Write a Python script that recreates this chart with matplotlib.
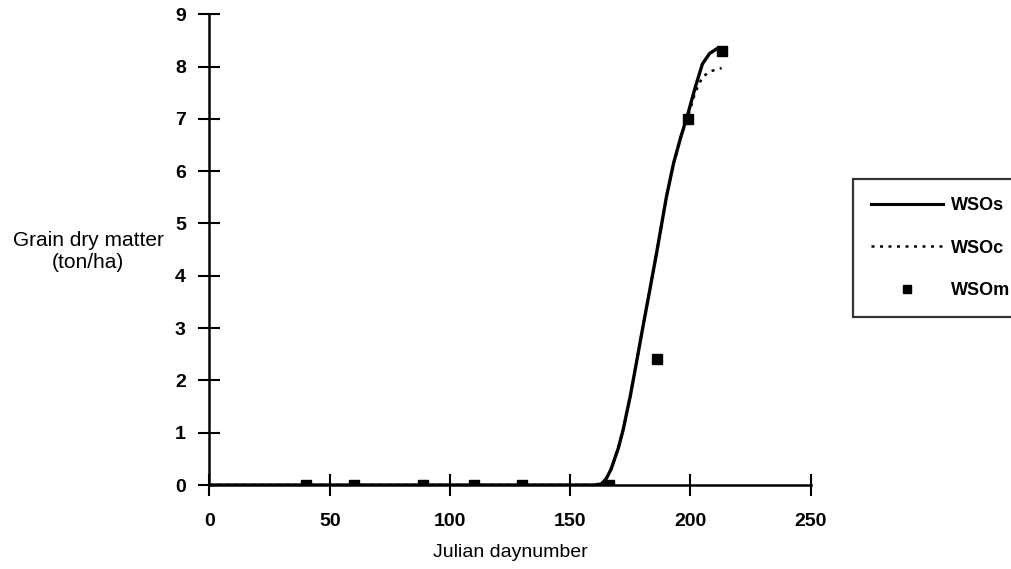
import matplotlib
matplotlib.use("Agg")
import matplotlib.pyplot as plt
from matplotlib.lines import Line2D

plt.rcParams['font.family'] = ['Liberation Sans', 'DejaVu Sans']

# Simulated (WSOs)
days_s = [0, 160, 163, 165, 167, 170, 172, 175, 178, 180, 183, 186, 190, 193, 196, 199, 202, 205, 208, 211, 213]
wso_s = [0, 0, 0.02, 0.12, 0.3, 0.7, 1.05, 1.7, 2.45, 2.96, 3.7, 4.45, 5.5, 6.15, 6.65, 7.1, 7.6, 8.05, 8.25, 8.34, 8.35]
# Calculated (WSOc)
days_c = [0, 160, 163, 165, 167, 170, 172, 175, 178, 180, 183, 186, 190, 193, 196, 199, 202, 205, 208, 211, 213]
wso_c = [0, 0, 0.02, 0.12, 0.3, 0.7, 1.05, 1.7, 2.45, 2.96, 3.7, 4.45, 5.5, 6.15, 6.65, 7.05, 7.5, 7.8, 7.9, 7.95, 7.97]
# Measured (WSOm)
days_m = [40, 60, 89, 110, 130, 166, 186, 199, 213]
wso_m = [0, 0, 0, 0, 0, 0, 2.4, 7.0, 8.3]

fig = plt.figure(figsize=(10.12, 5.69), dpi=100)
ax = fig.add_axes([0.207, 0.1476, 0.594, 0.8274])

ax.plot(days_s, wso_s, color='black', lw=2.4, solid_capstyle='round')
ax.plot(days_c, wso_c, color='black', lw=1.8, linestyle=(0, (1.2, 2.2)))
ax.plot(days_m, wso_m, linestyle='none', marker='s', color='black', ms=7.5)

ax.set_xlim(0, 250)
ax.set_ylim(0, 9)
ax.set_xticks(range(0, 251, 50))
ax.set_yticks(range(0, 10))
for s in ['top', 'right']:
    ax.spines[s].set_visible(False)
for s in ['left', 'bottom']:
    ax.spines[s].set_linewidth(1.8)
ax.tick_params(direction='inout', length=16, width=1.5, labelsize=14)
ax.tick_params(axis='x', pad=12)
ax.tick_params(axis='y', pad=9)
for lab in ax.get_xticklabels() + ax.get_yticklabels():
    lab.set_fontweight('bold')
ax.set_xlabel('Julian daynumber', fontsize=14, labelpad=10)

fig.text(0.087, 0.558, 'Grain dry matter\n(ton/ha)', ha='center', va='center',
         fontsize=15, linespacing=1.2)

handles = [Line2D([], [], color='black', lw=2.2),
           Line2D([], [], color='black', lw=1.8, linestyle=(0, (1.2, 2.2))),
           Line2D([], [], color='black', marker='s', linestyle='none', ms=6)]
leg = fig.legend(handles, ['WSOs', 'WSOc', 'WSOm'], loc='upper left',
                 bbox_to_anchor=(0.843, 0.685), frameon=True, fancybox=False,
                 edgecolor='black', fontsize=13, handlelength=4.0,
                 labelspacing=1.4, borderpad=1.0, handletextpad=0.4,
                 borderaxespad=0)
leg.get_frame().set_linewidth(1.6)
for t in leg.get_texts():
    t.set_fontweight('bold')

fig.savefig('out.png', dpi=100)
